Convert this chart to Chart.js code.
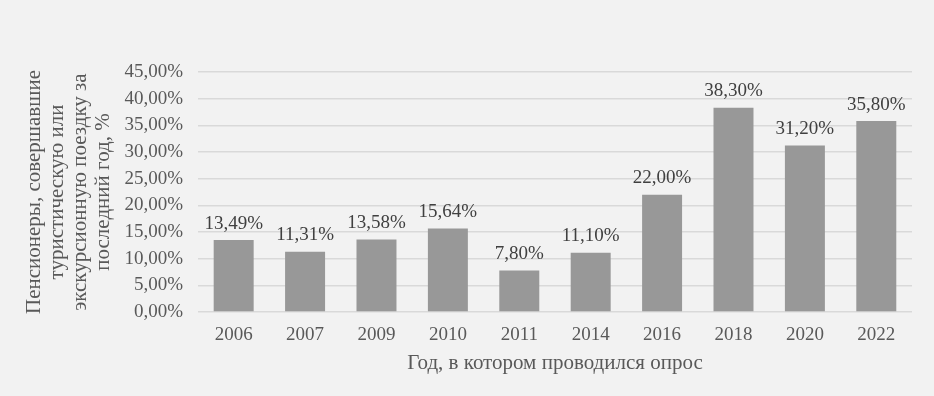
<!DOCTYPE html>
<html>
<head>
<meta charset="utf-8">
<script src="https://cdn.jsdelivr.net/npm/chart.js@4"></script>
<style>
  html, body { margin: 0; padding: 0; background: #f2f2f2; }
  #wrap { width: 934px; height: 396px; }
</style>
</head>
<body>
<div id="wrap"><canvas id="myChart"></canvas></div>
<script>
  // data
  const years = ['2006', '2007', '2009', '2010', '2011', '2014', '2016', '2018', '2020', '2022'];
  const shares = [13.49, 11.31, 13.58, 15.64, 7.80, 11.10, 22.00, 38.30, 31.20, 35.80];
  const yTitle = ['Пенсионеры, совершавшие', 'туристическую или', 'экскурсионную поездку за', 'последний год, %'];
  const xTitle = 'Год, в котором проводился опрос';

  const fmt = v => v.toFixed(2).replace('.', ',') + '%';
  const serif = '"Liberation Serif", serif';

  // labels above the bars
  const barLabels = {
    id: 'barLabels',
    afterDatasetsDraw(chart) {
      const {ctx} = chart;
      const meta = chart.getDatasetMeta(0);
      ctx.save();
      ctx.font = '19px ' + serif;
      ctx.fillStyle = '#404040';
      ctx.textAlign = 'center';
      ctx.textBaseline = 'bottom';
      meta.data.forEach((bar, i) => {
        ctx.fillText(fmt(shares[i]), bar.x, bar.y - 7);
      });
      ctx.restore();
    }
  };

  const config = {
    type: 'bar',
    data: {
      labels: years,
      datasets: [{
        data: shares,
        backgroundColor: '#989898',
        barPercentage: 0.56,
        categoryPercentage: 1
      }]
    },
    options: {
      responsive: true,
      maintainAspectRatio: false,
      animation: false,
      layout: { padding: { top: 72, right: 22, left: 23, bottom: 20 } },
      plugins: {
        legend: { display: false },
        tooltip: { enabled: false }
      },
      scales: {
        x: {
          grid: { display: false, drawTicks: false },
          border: { display: false },
          ticks: {
            autoSkip: false,
            maxRotation: 0,
            color: '#595959',
            font: { family: serif, size: 19 },
            padding: 12
          },
          title: {
            display: true,
            text: xTitle,
            color: '#595959',
            font: { family: serif, size: 21 },
            padding: { top: -8, bottom: 0 }
          }
        },
        y: {
          min: 0,
          max: 45,
          grid: { color: '#d9d9d9', lineWidth: 1.5, drawTicks: false },
          border: { display: false },
          ticks: {
            autoSkip: false,
            stepSize: 5,
            color: '#595959',
            font: { family: serif, size: 19 },
            padding: 15,
            callback: v => fmt(v)
          },
          title: {
            display: true,
            text: yTitle,
            color: '#595959',
            font: { family: serif, size: 21, lineHeight: 1.1 },
            padding: { top: 0, bottom: -6 }
          }
        }
      }
    },
    plugins: [barLabels]
  };

  const myChart = new Chart(document.getElementById('myChart'), config);
</script>
</body>
</html>
